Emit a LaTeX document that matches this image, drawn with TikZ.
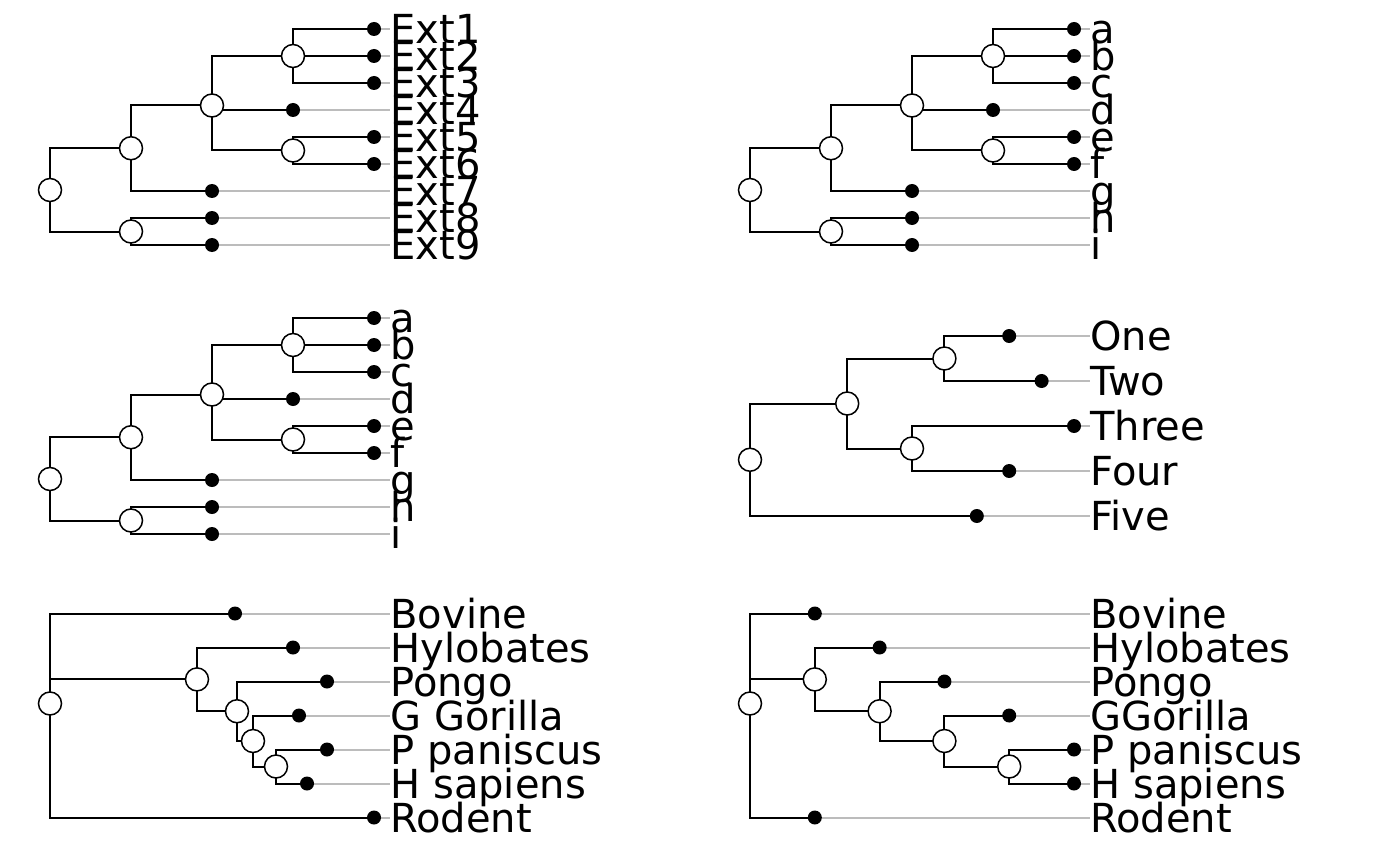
\documentclass[tikz,border=0pt]{standalone}
\usepackage{fontspec}
\setmainfont{DejaVu Sans}
\usetikzlibrary{backgrounds}

\definecolor{tipgray}{RGB}{188,188,188}

% nine-tip tree, one label per argument
\newcommand{\ninetree}[9]{%
\node[fork] (r) at (50,190) {};
\node[fork] (n1) at (131,148.25) {};
\node[fork] (n2) at (212,105.5) {};
\node[fork] (n3) at (293,56) {};
\node[fork] (n4) at (293,150.5) {};
\node[fork] (n5) at (131,231.5) {};
\node[leaf] (t1) at (374,29) {};
\node[leaf] (t2) at (374,56) {};
\node[leaf] (t3) at (374,83) {};
\node[leaf] (t4) at (293,110) {};
\node[leaf] (t5) at (374,137) {};
\node[leaf] (t6) at (374,164) {};
\node[leaf] (t7) at (212,191) {};
\node[leaf] (t8) at (212,218) {};
\node[leaf] (t9) at (212,245) {};
\node[lab] (l1) at (390,29) {#1};
\node[lab] (l2) at (390,56) {#2};
\node[lab] (l3) at (390,83) {#3};
\node[lab] (l4) at (390,110) {#4};
\node[lab] (l5) at (390,137) {#5};
\node[lab] (l6) at (390,164) {#6};
\node[lab] (l7) at (390,191) {#7};
\node[lab] (l8) at (390,218) {#8};
\node[lab] (l9) at (390,245) {#9};
\begin{pgfonlayer}{background}
\draw[branch] (r.center) |- (n1.center) (r.center) |- (n5.center)
  (n1.center) |- (n2.center) (n1.center) |- (t7.center)
  (n2.center) |- (n3.center) (n2.center) |- (t4.center) (n2.center) |- (n4.center)
  (n3.center) |- (t1.center) (n3.center) |- (t2.center) (n3.center) |- (t3.center)
  (n4.center) |- (t5.center) (n4.center) |- (t6.center)
  (n5.center) |- (t8.center) (n5.center) |- (t9.center);
\foreach \k in {1,...,9}
  \draw[tipline] (t\k.center) -- (t\k -| l\k.west);
\end{pgfonlayer}%
}

\begin{document}
\begin{tikzpicture}[x=0.5pt,y=-0.5pt,
  fork/.style={circle,draw,fill=white,line width=0.75pt,minimum size=11.5pt,inner sep=0pt},
  leaf/.style={circle,fill=black,minimum size=7pt,inner sep=0pt},
  lab/.style={anchor=base west,inner sep=0pt,yshift=-7.3pt,font=\fontsize{20}{24}\selectfont},
  branch/.style={line width=1pt},
  tipline/.style={line width=1pt,color=tipgray}]
\useasboundingbox (0,0) rectangle (1400,866);

\begin{scope}
\ninetree{Ext1}{Ext2}{Ext3}{Ext4}{Ext5}{Ext6}{Ext7}{Ext8}{Ext9}
\end{scope}
\begin{scope}[shift={(700,0)}]
\ninetree{a}{b}{c}{d}{e}{f}{g}{h}{i}
\end{scope}
\begin{scope}[shift={(0,289)}]
\ninetree{a}{b}{c}{d}{e}{f}{g}{h}{i}
\end{scope}

% five tips
\node[fork] (r4) at (750,459.75) {};
\node[fork] (a4) at (847.2,403.5) {};
\node[fork] (b4) at (944.4,358.5) {};
\node[fork] (c4) at (912,448.5) {};
\node[leaf] (one) at (1009.2,336) {};
\node[leaf] (two) at (1041.6,381) {};
\node[leaf] (three) at (1074,426) {};
\node[leaf] (four) at (1009.2,471) {};
\node[leaf] (five) at (976.8,516) {};
\node[lab] (lone) at (1090,336) {One};
\node[lab] (ltwo) at (1090,381) {Two};
\node[lab] (lthree) at (1090,426) {Three};
\node[lab] (lfour) at (1090,471) {Four};
\node[lab] (lfive) at (1090,516) {Five};
\begin{pgfonlayer}{background}
\draw[branch] (r4.center) |- (a4.center) (r4.center) |- (five.center)
  (a4.center) |- (b4.center) (a4.center) |- (c4.center)
  (b4.center) |- (one.center) (b4.center) |- (two.center)
  (c4.center) |- (three.center) (c4.center) |- (four.center);
\foreach \t in {one,two,three,four,five}
  \draw[tipline] (\t.center) -- (\t -| l\t.west);
\end{pgfonlayer}

% hominoids, branch lengths
\node[fork] (r5) at (50,703.5) {};
\node[fork] (h5) at (197,679.4) {};
\node[fork] (p5) at (237,711.25) {};
\node[fork] (g5) at (253,741) {};
\node[fork] (s5) at (276,766.5) {};
\node[leaf] (bov5) at (235,613.5) {};
\node[leaf] (hyl5) at (293,647.5) {};
\node[leaf] (pon5) at (327,681.5) {};
\node[leaf] (gor5) at (299,715.5) {};
\node[leaf] (ppa5) at (327,749.5) {};
\node[leaf] (hsa5) at (307,783.5) {};
\node[leaf] (rod5) at (374,817.5) {};
\node[lab] (lbov5) at (390,613.5) {Bovine};
\node[lab] (lhyl5) at (390,647.5) {Hylobates};
\node[lab] (lpon5) at (390,681.5) {Pongo};
\node[lab] (lgor5) at (390,715.5) {G Gorilla};
\node[lab] (lppa5) at (390,749.5) {P paniscus};
\node[lab] (lhsa5) at (390,783.5) {H sapiens};
\node[lab] (lrod5) at (390,817.5) {Rodent};
\begin{pgfonlayer}{background}
\draw[branch] (r5.center) |- (bov5.center) (r5.center) |- (h5.center) (r5.center) |- (rod5.center)
  (h5.center) |- (hyl5.center) (h5.center) |- (p5.center)
  (p5.center) |- (pon5.center) (p5.center) |- (g5.center)
  (g5.center) |- (gor5.center) (g5.center) |- (s5.center)
  (s5.center) |- (ppa5.center) (s5.center) |- (hsa5.center);
\foreach \t in {bov5,hyl5,pon5,gor5,ppa5,hsa5,rod5}
  \draw[tipline] (\t.center) -- (\t -| l\t.west);
\end{pgfonlayer}

% hominoids, cladogram
\node[fork] (r6) at (750,703.5) {};
\node[fork] (h6) at (814.8,679.4) {};
\node[fork] (p6) at (879.6,711.25) {};
\node[fork] (g6) at (944.4,741) {};
\node[fork] (s6) at (1009.2,766.5) {};
\node[leaf] (bov6) at (814.8,613.5) {};
\node[leaf] (hyl6) at (879.6,647.5) {};
\node[leaf] (pon6) at (944.4,681.5) {};
\node[leaf] (gor6) at (1009.2,715.5) {};
\node[leaf] (ppa6) at (1074,749.5) {};
\node[leaf] (hsa6) at (1074,783.5) {};
\node[leaf] (rod6) at (814.8,817.5) {};
\node[lab] (lbov6) at (1090,613.5) {Bovine};
\node[lab] (lhyl6) at (1090,647.5) {Hylobates};
\node[lab] (lpon6) at (1090,681.5) {Pongo};
\node[lab] (lgor6) at (1090,715.5) {GGorilla};
\node[lab] (lppa6) at (1090,749.5) {P paniscus};
\node[lab] (lhsa6) at (1090,783.5) {H sapiens};
\node[lab] (lrod6) at (1090,817.5) {Rodent};
\begin{pgfonlayer}{background}
\draw[branch] (r6.center) |- (bov6.center) (r6.center) |- (h6.center) (r6.center) |- (rod6.center)
  (h6.center) |- (hyl6.center) (h6.center) |- (p6.center)
  (p6.center) |- (pon6.center) (p6.center) |- (g6.center)
  (g6.center) |- (gor6.center) (g6.center) |- (s6.center)
  (s6.center) |- (ppa6.center) (s6.center) |- (hsa6.center);
\foreach \t in {bov6,hyl6,pon6,gor6,ppa6,hsa6,rod6}
  \draw[tipline] (\t.center) -- (\t -| l\t.west);
\end{pgfonlayer}
\end{tikzpicture}
\end{document}
